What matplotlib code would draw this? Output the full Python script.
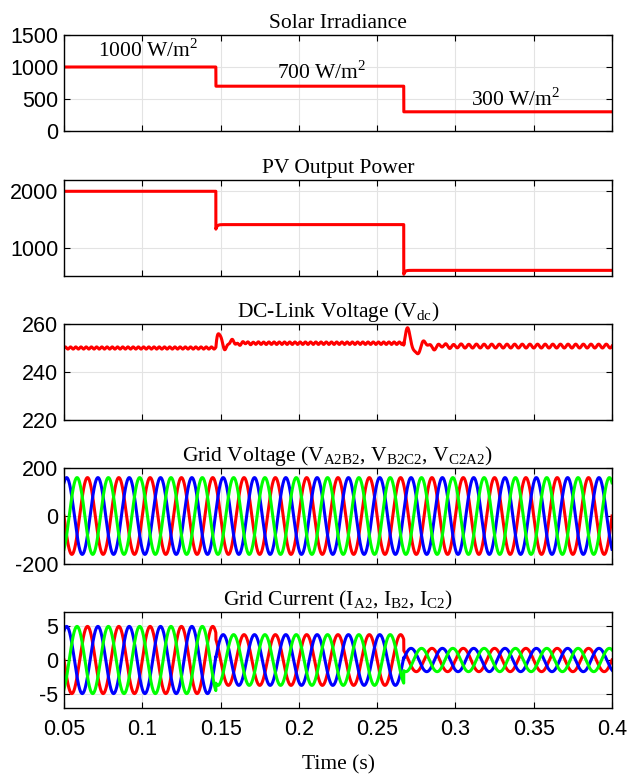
import numpy as np
import matplotlib
matplotlib.use('Agg')
import matplotlib.pyplot as plt

# ---------------- data ----------------
t_start, t_end = 0.05, 0.4
step_times = [0.147, 0.267]

irradiance_levels = [1000, 700, 300]
irradiance_labels = ['1000 W/m$^\\mathregular{2}$', '700 W/m$^\\mathregular{2}$', '300 W/m$^\\mathregular{2}$']
irradiance_label_t = [0.104, 0.2145, 0.3385]
irradiance_label_y = [1265, 920, 485]

pv_power_levels = [2000, 1410, 600]
pv_power_dips = [1330, 530]

vdc_levels = [250.0, 252.0, 250.8]
vdc_ripple_amp = [0.45, 0.5, 0.8]
vdc_ripple_freq = [300, 300, 205]
vdc_osc_amp = [6.4, 9.3]
vdc_osc_freq = [120, 90]
vdc_osc_tau = [0.006, 0.008]

grid_freq = 50
grid_voltage_amp = 160
grid_current_amps = [4.9, 3.7, 1.7]
phase_shift_deg = [0, -120, 120]
phase_colors = ['#ff0000', '#0000ff', '#00ff00']

titles = ['Solar Irradiance', 'PV Output Power',
          'DC-Link Voltage (V$_\\mathregular{dc}$)',
          'Grid Voltage (V$_\\mathregular{A2B2}$, V$_\\mathregular{B2C2}$, V$_\\mathregular{C2A2}$)',
          'Grid Current (I$_\\mathregular{A2}$, I$_\\mathregular{B2}$, I$_\\mathregular{C2}$)']
ylims = [(0, 1500), (500, 2200), (220, 260), (-200, 200), (-7, 7)]
yticks = [[0, 500, 1000, 1500], [1000, 2000], [220, 240, 260], [-200, 0, 200], [-5, 0, 5]]
xticks = [0.05, 0.1, 0.15, 0.2, 0.25, 0.3, 0.35, 0.4]
xticklabels = ['0.05', '0.1', '0.15', '0.2', '0.25', '0.3', '0.35', '0.4']

# ---------------- signals ----------------
t = np.linspace(t_start, t_end, 14001)
seg = np.searchsorted(step_times, t, side='right')

irr = np.array(irradiance_levels, dtype=float)[seg]

pv = np.array(pv_power_levels, dtype=float)[seg]
for k, ts in enumerate(step_times):
    tp = t - ts
    m = tp >= 0
    pv[m] += (pv_power_dips[k] - pv_power_levels[k + 1]) * np.exp(-tp[m] / 0.0008)

vdc = np.array(vdc_levels)[seg] + np.array(vdc_ripple_amp)[seg] * np.sin(2 * np.pi * np.array(vdc_ripple_freq)[seg] * t)
for k, ts in enumerate(step_times):
    tp = t - ts
    m = tp >= 0
    vdc[m] += (vdc_levels[k] - vdc_levels[k + 1]) * np.exp(-tp[m] / 0.001)
    vdc[m] += vdc_osc_amp[k] * np.exp(-tp[m] / vdc_osc_tau[k]) * np.sin(2 * np.pi * vdc_osc_freq[k] * tp[m])

w = 2 * np.pi * grid_freq
cur_amp = np.array(grid_current_amps)[seg]

# ---------------- figure ----------------
plt.rcParams['font.family'] = ['Liberation Sans', 'DejaVu Sans']
plt.rcParams['mathtext.fontset'] = 'custom'
plt.rcParams['mathtext.rm'] = 'Liberation Serif'
plt.rcParams['axes.unicode_minus'] = False

W, H = 630, 777
fig = plt.figure(figsize=(W / 100, H / 100), dpi=100)
left_px, right_px = 64, 612
tops_px = [35, 180, 324, 468, 612]
h_px = 96
axes = []
for top in tops_px:
    ax = fig.add_axes([left_px / W, 1 - (top + h_px) / H, (right_px - left_px) / W, h_px / H])
    axes.append(ax)

lw = 2.2
axes[0].plot(t, irr, color='#ff0000', lw=lw)
for lab, xt, yt in zip(irradiance_labels, irradiance_label_t, irradiance_label_y):
    axes[0].text(xt, yt, lab, ha='center', va='center', fontsize=15.5, family='Liberation Serif')

axes[1].plot(t, pv, color='#ff0000', lw=lw)
axes[2].plot(t, vdc, color='#ff0000', lw=lw)

for c, ph in zip(phase_colors, phase_shift_deg):
    axes[3].plot(t, grid_voltage_amp * np.sin(w * t + np.deg2rad(ph)), color=c, lw=lw)
for c, ph in zip(phase_colors, phase_shift_deg):
    axes[4].plot(t, cur_amp * np.sin(w * t + np.deg2rad(ph)), color=c, lw=lw)

for i, ax in enumerate(axes):
    ax.set_xlim(t_start, t_end)
    ax.set_ylim(*ylims[i])
    ax.set_yticks(yticks[i])
    ax.set_xticks(xticks)
    ax.grid(True, color='#e3e3e3', lw=0.8)
    ax.set_axisbelow(True)
    ax.tick_params(direction='in', top=True, right=True, length=4, width=0.8,
                   labelsize=15.5, pad=4)
    for s in ax.spines.values():
        s.set_linewidth(1.0)
        s.set_color('black')
    ax.set_title(titles[i], fontsize=15.5, family='Liberation Serif', pad=5)
    if i < 4:
        ax.set_xticklabels([])
    else:
        ax.set_xticklabels(xticklabels)
        ax.tick_params(axis='x', pad=8)
        ax.set_xlabel('Time (s)', fontsize=15.5, family='Liberation Serif', labelpad=11)

fig.savefig('out.png', dpi=100)
